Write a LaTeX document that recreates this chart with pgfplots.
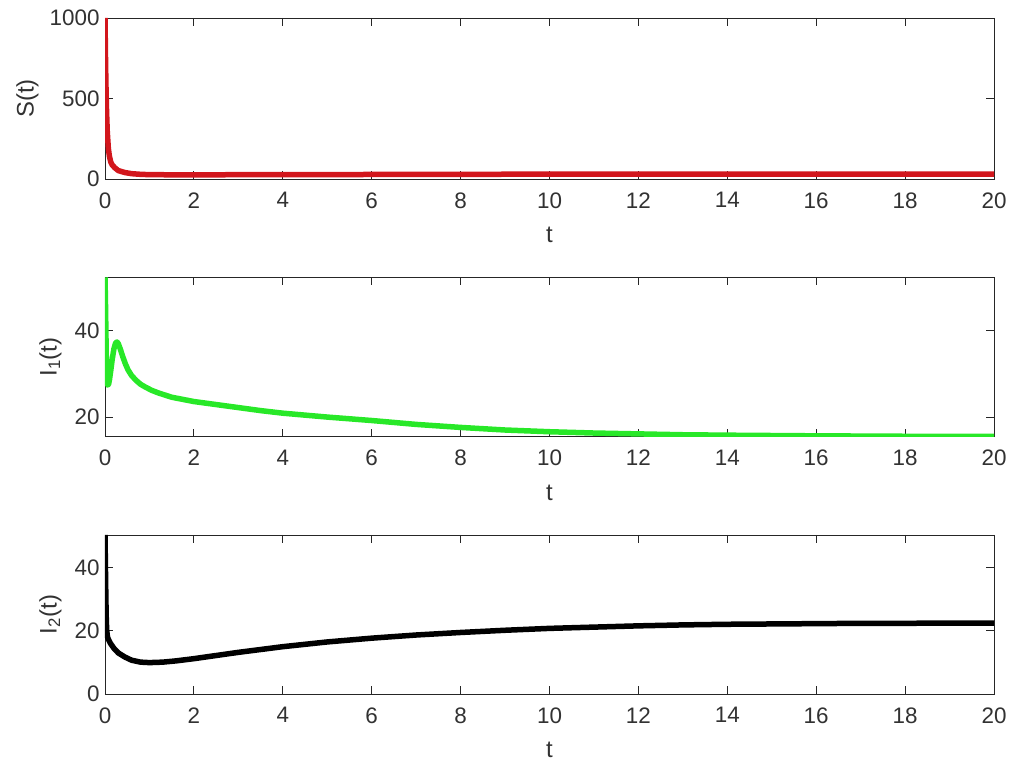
\documentclass[border=0pt]{standalone}
\usepackage{pgfplots}
\pgfplotsset{compat=1.18}
\usepackage{fontspec}
\setmainfont{Liberation Sans}
\definecolor{axgray}{RGB}{38,38,38}
\definecolor{txtgray}{RGB}{50,50,50}
\definecolor{sred}{RGB}{210,22,28}
\definecolor{igreen}{RGB}{40,232,40}
\pgfplotsset{
  mystyle/.style={
    scale only axis, width=889bp,
    xmin=0, xmax=20, xtick={0,2,...,20},
    axis line style={axgray, line width=0.9bp},
    every tick/.style={axgray, line width=0.9bp},
    major tick length=8bp,
    tick pos=both,
    tick align=inside,
    minor tick num=0,
    ticklabel style={font=\fontsize{22.5}{26}\selectfont, text=txtgray},
    /pgf/number format/assume math mode=true,
    /pgf/number format/set thousands separator={},
    xticklabel style={yshift=-10bp},
    yticklabel style={xshift=-2bp},
    label style={font=\fontsize{24}{28}\selectfont, text=txtgray},
    xlabel={t},
    xlabel style={at={(axis description cs:0.5,0)}, anchor=north, yshift=-45bp},
    ylabel style={at={(axis description cs:0,0.5)}, anchor=south},
    every axis plot/.append style={line width=5.5bp, line join=round},
  }
}
\begin{document}
\begin{tikzpicture}
\useasboundingbox (0,0) rectangle (1021bp,763bp);
% Top
\begin{axis}[mystyle, at={(105bp,584bp)}, anchor=south west, height=161bp,
  ymin=0, ymax=1000, ytick={0,500,1000}, ylabel={S(t)},
  ylabel style={yshift=63bp}]
\addplot[sred] coordinates {
(0,1000) (0.01,780) (0.02,600) (0.035,420) (0.05,300) (0.075,190) (0.1,140) (0.13,105) (0.16,88) (0.22,70) (0.3,52) (0.45,40) (0.6,33) (0.8,29) (1,27) (1.5,26) (2,26) (3,26.5) (4,27) (6,28) (8,29) (10,30) (12,30) (14,31) (16,31) (18,31) (20,31)
};
\end{axis}
% Middle
\begin{axis}[mystyle, at={(105bp,326.3bp)}, anchor=south west, height=159.4bp,
  ymin=15.45, ymax=52.4, ytick={20,40}, ylabel={I\textsubscript{1}(t)},
  ylabel style={yshift=40bp}]
\addplot[igreen] coordinates {
(0,52.4) (0.01,47) (0.02,40) (0.03,33) (0.045,28.5) (0.06,27.4) (0.08,27.6) (0.1,28.6) (0.13,30.8) (0.16,33.2) (0.2,35.8) (0.24,37.2) (0.27,37.4) (0.3,37.0) (0.34,35.9) (0.4,34) (0.46,32.3) (0.52,30.9) (0.6,29.6) (0.7,28.5) (0.8,27.6) (0.9,27) (1.05,26.2) (1.2,25.6) (1.5,24.6) (2,23.6) (2.5,22.9) (3,22.2) (3.5,21.5) (4,20.9) (5,20) (6,19.2) (7,18.3) (8,17.6) (9,17.0) (10,16.6) (11,16.3) (12,16.1) (13,15.9) (14,15.8) (16,15.65) (18,15.55) (20,15.5)
};
\end{axis}
% Bottom
\begin{axis}[mystyle, at={(105bp,69bp)}, anchor=south west, height=159bp,
  ymin=0, ymax=50.4, ytick={0,20,40}, ylabel={I\textsubscript{2}(t)},
  ylabel style={yshift=40bp}]
\addplot[black] coordinates {
(0,50.4) (0.01,40) (0.02,30) (0.03,23) (0.04,20) (0.055,18.2) (0.07,17.5) (0.12,16.1) (0.2,14.5) (0.3,13) (0.45,11.7) (0.6,10.7) (0.8,10.1) (1.0,9.95) (1.3,10.1) (1.6,10.5) (2,11.2) (2.5,12.2) (3,13.2) (3.5,14.1) (4,15) (5,16.5) (6,17.7) (7,18.7) (8,19.5) (9,20.2) (10,20.8) (11,21.2) (12,21.6) (13,21.9) (14,22.1) (15,22.2) (16,22.3) (17,22.4) (18,22.4) (19,22.5) (20,22.5)
};
\end{axis}
\end{tikzpicture}
\end{document}
